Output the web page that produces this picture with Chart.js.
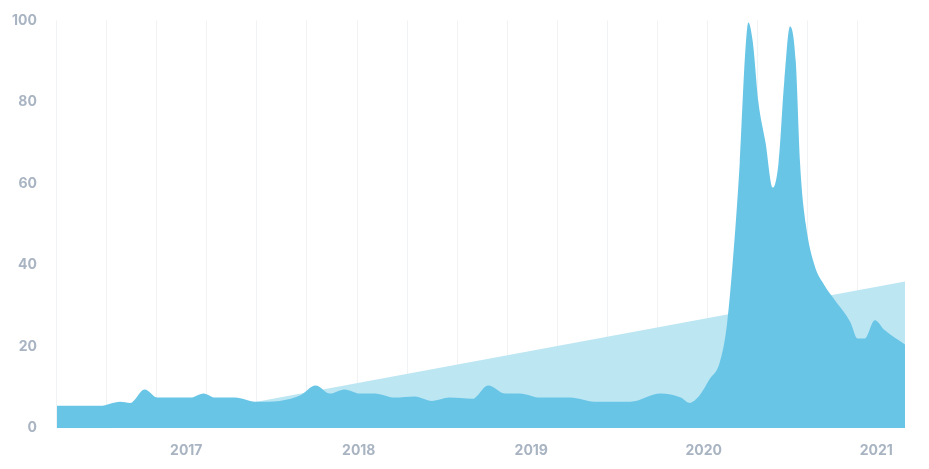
<!DOCTYPE html>
<html><head><meta charset="utf-8">
<script src="https://cdn.jsdelivr.net/npm/chart.js@4"></script>
<style>html,body{margin:0;background:#fff}#wrap{width:929px;height:469px}</style>
</head><body><div id="wrap"><canvas id="c"></canvas></div>
<script>
// x = months since April 2016
const xMonths = [0,3,4.4,5.1,6.1,7,8.2,9.3,10.2,11,12.4,13.8,15.5,16.9,18,19,20,21.1,22.1,23.5,24.9,26.1,27.3,28.9,30,31.2,32.2,33.6,35.7,37.4,39.9,42,43.4,44,44.7,45.4,46.1,46.6,47,47.5,47.9,48.1,48.4,48.8,49.3,49.8,50.2,50.6,51,51.4,51.7,52.1,52.7,53.4,54.1,55.2,55.7,56.2,56.9,57.6,59]
const values = [5.5,5.5,6.5,6.2,9.5,7.5,7.5,7.5,8.5,7.5,7.5,6.5,6.7,8,10.5,8.5,9.5,8.5,8.5,7.5,7.8,6.7,7.5,7.2,10.5,8.5,8.5,7.5,7.5,6.5,6.5,8.5,7.5,6.2,8,12,16,25,40,65,93,99.5,95,80,70,59,65,85,98.5,90,65,50,40,35,31.5,26,22,22,26.5,24,20.5]
const trendX = [0,59]
const trendY = [-2.6,36]
const yearTicks = [9,21,33,45,57]
const yearLabels = ['2017','2018','2019','2020','2021']

const font = { family: 'Inter, "Open Sans", sans-serif', size: 14, weight: 'bold' }
new Chart(document.getElementById('c'), {
  type: 'line',
  data: { datasets: [
    { data: xMonths.map((x, i) => ({ x, y: values[i] })), fill: 'origin', backgroundColor: '#68c5e6', borderWidth: 0, pointRadius: 0, cubicInterpolationMode: 'monotone', tension: 0.4, order: 1 },
    { data: trendX.map((x, i) => ({ x, y: trendY[i] })), fill: 'origin', backgroundColor: '#bde6f3', borderWidth: 0, pointRadius: 0, order: 2 }
  ] },
  options: {
    responsive: true, maintainAspectRatio: false, animation: false,
    layout: { padding: { top: 20, right: 24, left: 0, bottom: 4 } },
    plugins: { legend: { display: false }, tooltip: { enabled: false } },
    scales: {
      x: { type: 'linear', min: 0, max: 59, grid: { display: false }, border: { display: false },
        afterBuildTicks: s => { s.ticks = yearTicks.map(v => ({ value: v })) },
        ticks: { color: '#a9b4c2', font, padding: 6, callback: v => yearLabels[yearTicks.indexOf(v)] } },
      xg: { type: 'linear', min: 0, max: 59, display: true, position: 'bottom',
        afterBuildTicks: s => { const t = []; for (let v = 0; v <= 59; v += 50 / 14.37) t.push({ value: v }); s.ticks = t },
        grid: { color: '#f0f2f4', drawTicks: false }, border: { display: false }, ticks: { display: false } },
      y: { min: 0, max: 100, grid: { display: false }, border: { display: false },
        ticks: { stepSize: 20, color: '#a9b4c2', font, padding: 12 } }
    }
  }
})
</script></body></html>
